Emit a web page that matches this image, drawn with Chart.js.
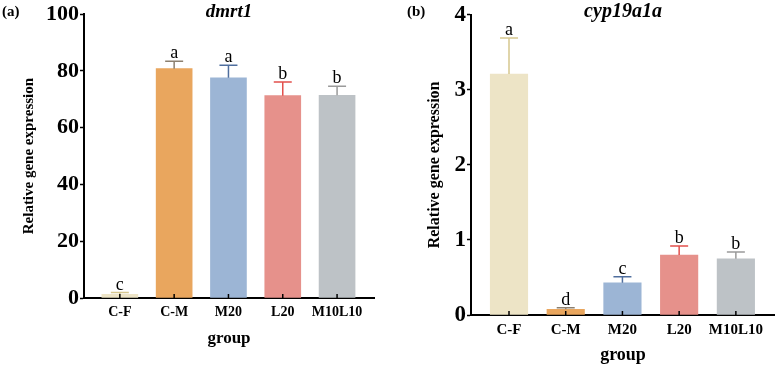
<!DOCTYPE html>
<html>
<head>
<meta charset="utf-8">
<script src="https://cdn.jsdelivr.net/npm/chart.js@4"></script>
<style>
  body { margin: 0; background: #fff; }
  #wrap { position: relative; width: 775px; height: 367px; }
  canvas { position: absolute; top: 0; }
</style>
</head>
<body>
<div id="wrap">
  <canvas id="chartA" width="385" height="367" style="left:0"></canvas>
  <canvas id="chartB" width="385" height="367" style="left:390px"></canvas>
</div>
<script>
// groups and values
const groups = ["C-F", "C-M", "M20", "L20", "M10L10"];

const dmrt1Mean = [1.3, 80.8, 77.6, 71.3, 71.4];
const dmrt1Err = [0.6, 2.6, 4.4, 4.8, 3.2];
const dmrt1Letters = ["c", "a", "a", "b", "b"];
const dmrt1Ticks = [0, 20, 40, 60, 80, 100];

const cypMean = [3.21, 0.075, 0.43, 0.8, 0.75];
const cypErr = [0.48, 0.02, 0.08, 0.12, 0.09];
const cypLetters = ["a", "d", "c", "b", "b"];
const cypTicks = [0, 1, 2, 3, 4];

const barColors = ["#EDE4C6", "#E9A65E", "#9CB5D5", "#E6918B", "#BDC2C6"];
const errColors = ["#D6C78E", "#8C8070", "#4F6E9E", "#E2504C", "#9A9A9A"];

const serif = "'Liberation Serif', 'Times New Roman', serif";

// error bars (upward only), letters, inward x ticks, gene title and panel tag
const extras = {
  id: "extras",
  afterDatasetsDraw(chart, args, o) {
    const ctx = chart.ctx;
    const xs = chart.scales.x;
    const ys = chart.scales.y;
    ctx.save();
    o.means.forEach(function (m, i) {
      const px = xs.getPixelForValue(i);
      const top = ys.getPixelForValue(m);
      const end = ys.getPixelForValue(m + o.errs[i]);
      ctx.strokeStyle = o.errColors[i];
      ctx.lineWidth = 1.5;
      ctx.beginPath();
      ctx.moveTo(px, top);
      ctx.lineTo(px, end);
      ctx.moveTo(px - o.cap, end);
      ctx.lineTo(px + o.cap, end);
      ctx.stroke();

      ctx.fillStyle = "#000";
      ctx.font = o.letterSize + "px " + serif;
      ctx.textAlign = "center";
      ctx.textBaseline = "alphabetic";
      ctx.fillText(o.letters[i], px, end - 3);

      ctx.strokeStyle = "#000";
      ctx.lineWidth = 1.5;
      ctx.beginPath();
      ctx.moveTo(px, xs.top);
      ctx.lineTo(px, xs.top - 4);
      ctx.stroke();
    });

    ctx.fillStyle = "#000";
    ctx.textBaseline = "middle";
    ctx.textAlign = "center";
    ctx.font = "italic bold " + o.titleSize + "px " + serif;
    ctx.fillText(o.title, o.titleX, 12);

    ctx.textAlign = "left";
    ctx.font = "bold 15px " + serif;
    ctx.fillText(o.tag, o.tagX, 12);
    ctx.restore();
  },
};

function makeChart(id, cfg) {
  const pts = cfg.means.map(function (v, i) {
    return { x: i, y: v };
  });
  return new Chart(document.getElementById(id), {
    type: "bar",
    data: {
      datasets: [
        {
          data: pts,
          backgroundColor: barColors,
          borderWidth: 0,
          barThickness: cfg.barW,
        },
      ],
    },
    plugins: [extras],
    options: {
      responsive: false,
      devicePixelRatio: 1,
      animation: false,
      layout: { padding: { left: 0, right: cfg.padRight, top: 12, bottom: 0 } },
      plugins: {
        legend: { display: false },
        tooltip: { enabled: false },
        extras: {
          means: cfg.means,
          errs: cfg.errs,
          letters: cfg.letters,
          errColors: errColors,
          cap: 9,
          letterSize: 18,
          title: cfg.title,
          titleSize: cfg.titleSize,
          titleX: cfg.titleX,
          tag: cfg.tag,
          tagX: cfg.tagX,
        },
      },
      scales: {
        x: {
          type: "linear",
          offset: false,
          min: cfg.xMin,
          max: cfg.xMax,
          afterBuildTicks: function (s) {
            s.ticks = groups.map(function (g, i) {
              return { value: i };
            });
          },
          afterFit: function (s) {
            s.height = cfg.xHeight;
          },
          grid: { display: true, offset: false, drawOnChartArea: false, drawTicks: false },
          border: { color: "#000", width: 2 },
          ticks: {
            color: "#000",
            padding: cfg.xTickPad,
            autoSkip: false,
            maxRotation: 0,
            font: { family: serif, weight: "bold", size: cfg.xTickSize },
            callback: function (v) {
              return groups[v];
            },
          },
          title: {
            display: true,
            text: "group",
            color: "#000",
            padding: { top: 0, bottom: cfg.xTitlePad },
            font: { family: serif, weight: "bold", size: cfg.xTitleSize },
          },
        },
        y: {
          min: cfg.ticks[0],
          max: cfg.ticks[cfg.ticks.length - 1],
          afterBuildTicks: function (s) {
            s.ticks = cfg.ticks.map(function (t) {
              return { value: t };
            });
          },
          afterFit: function (s) {
            s.width = cfg.yWidth;
          },
          grid: { display: true, drawOnChartArea: false, drawTicks: true, tickLength: 4, tickWidth: 1.5, tickColor: "#000" },
          border: { color: "#000", width: 2 },
          ticks: {
            color: "#000",
            padding: 1,
            font: { family: serif, weight: "bold", size: cfg.yTickSize },
          },
          title: {
            display: true,
            text: "Relative gene expression",
            color: "#000",
            padding: { top: cfg.yTitlePad, bottom: 0 },
            font: { family: serif, weight: "bold", size: cfg.yTitleSize },
          },
        },
      },
    },
  });
}

makeChart("chartA", {
  means: dmrt1Mean,
  errs: dmrt1Err,
  letters: dmrt1Letters,
  ticks: dmrt1Ticks,
  title: "dmrt1",
  titleSize: 19,
  titleX: 229,
  tag: "(a)",
  tagX: 2,
  xMin: -0.66,
  xMax: 4.68,
  barW: 36,
  padRight: 11,
  xHeight: 69,
  yWidth: 84,
  xTickPad: 6,
  xTickSize: 14,
  xTitleSize: 17,
  xTitlePad: 18,
  yTickSize: 22,
  yTitleSize: 15,
  yTitlePad: 20,
});

makeChart("chartB", {
  means: cypMean,
  errs: cypErr,
  letters: cypLetters,
  ticks: cypTicks,
  title: "cyp19a1a",
  titleSize: 20,
  titleX: 233,
  tag: "(b)",
  tagX: 17,
  xMin: -0.67,
  xMax: 4.69,
  barW: 37.5,
  padRight: 0,
  xHeight: 52,
  yWidth: 81,
  xTickPad: 6,
  xTickSize: 15,
  xTitleSize: 18,
  xTitlePad: 1,
  yTickSize: 23,
  yTitleSize: 16,
  yTitlePad: 35,
});
</script>
</body>
</html>
